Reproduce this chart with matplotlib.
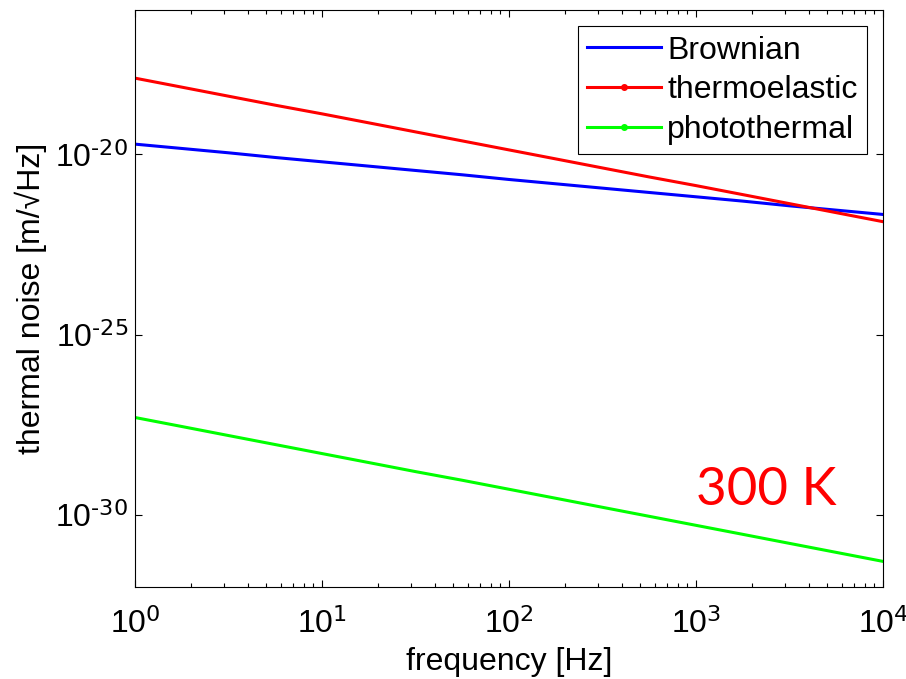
import numpy as np
import matplotlib
matplotlib.use('Agg')
import matplotlib.pyplot as plt
from matplotlib.lines import Line2D
from matplotlib.ticker import FuncFormatter, NullLocator

plt.rcParams['font.family'] = ['Liberation Sans', 'DejaVu Sans']
plt.rcParams['mathtext.default'] = 'regular'

# frequency points (Hz), quarter decades
freq = [1, 1.78, 3.16, 5.62, 10, 17.8, 31.6, 56.2, 100, 178, 316, 562,
        1000, 1780, 3160, 5620, 10000]

# log10 of noise amplitude [m/sqrt(Hz)]
brownian_exp = [-19.72, -19.84, -19.96, -20.09, -20.21, -20.33, -20.45, -20.57,
                -20.70, -20.82, -20.94, -21.06, -21.18, -21.30, -21.43, -21.55, -21.67]
thermoelastic_exp = [-17.89, -18.14, -18.39, -18.64, -18.88, -19.13, -19.38, -19.63,
                     -19.88, -20.13, -20.38, -20.63, -20.87, -21.12, -21.37, -21.62, -21.87]
photothermal_exp = [-27.30, -27.55, -27.80, -28.05, -28.30, -28.55, -28.80, -29.04,
                    -29.29, -29.54, -29.79, -30.04, -30.29, -30.54, -30.79, -31.04, -31.29]

labels = ['Brownian', 'thermoelastic', 'photothermal']
colors = ['#0000ff', '#ff0000', '#00ff00']


def pow10(v, pos):
    # matlab style: plain hyphen in the exponent
    return r'$10^{\text{%d}}$' % int(round(np.log10(v)))


fig = plt.figure(figsize=(9.06, 6.79), dpi=100)
ax = fig.add_axes([0.149, 0.1355, 0.8256, 0.8498])

series = [brownian_exp, thermoelastic_exp, photothermal_exp]
for s, c in zip(series, colors):
    ax.plot(freq, 10.0 ** np.array(s), color=c, linewidth=2.2)

ax.set_xscale('log')
ax.set_yscale('log')
ax.set_xlim(1, 1e4)
ax.set_ylim(1e-32, 1e-16)
ax.set_yticks([1e-30, 1e-25, 1e-20])
ax.yaxis.set_minor_locator(NullLocator())
ax.xaxis.set_major_formatter(FuncFormatter(pow10))
ax.yaxis.set_major_formatter(FuncFormatter(pow10))
ax.tick_params(which='both', direction='in', top=True, right=True,
               labelsize=23, width=0.8)
ax.tick_params(which='major', length=5)
ax.tick_params(which='minor', length=3)
ax.tick_params(axis='x', which='major', pad=15)
ax.tick_params(axis='y', which='major', pad=5)
for sp in ax.spines.values():
    sp.set_linewidth(0.8)

ax.set_xlabel('frequency [Hz]', fontsize=23, labelpad=5)
ax.set_ylabel('thermal noise [m/√Hz]', fontsize=23)
ax.yaxis.set_label_coords(-0.118, 0.5)

handles = [Line2D([], [], color=colors[0], linewidth=2.2),
           Line2D([], [], color=colors[1], linewidth=2.2, marker='.', markersize=8),
           Line2D([], [], color=colors[2], linewidth=2.2, marker='.', markersize=8)]
leg = ax.legend(handles, labels, loc='upper right', fontsize=23, fancybox=False,
                edgecolor='black', framealpha=1, borderpad=0.3, labelspacing=0.3,
                handlelength=2.3, handletextpad=0.2, borderaxespad=0.5)
leg.get_frame().set_linewidth(0.8)

ax.text(0.9385, 0.142, '300 K', transform=ax.transAxes, color='red',
        fontsize=38, family=['Lato', 'DejaVu Sans'], ha='right', va='baseline')

fig.savefig('out.png', dpi=100)
